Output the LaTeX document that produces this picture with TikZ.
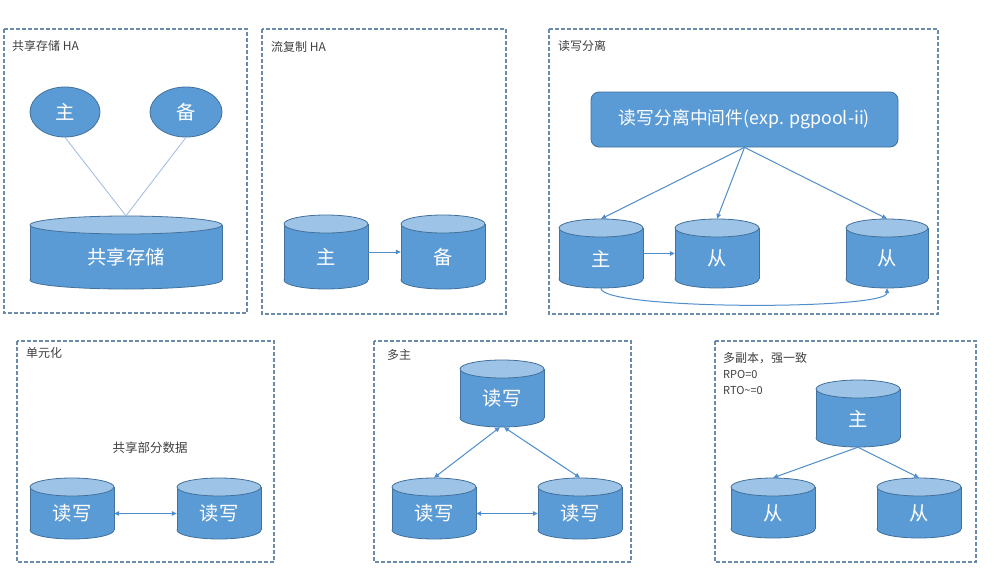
\documentclass[tikz,border=0pt]{standalone}
\usepackage{fontspec}
\setmainfont{Noto Sans CJK SC}
\usetikzlibrary{arrows.meta,shapes.geometric}
\definecolor{cylbody}{HTML}{5B9BD5}
\definecolor{cylline}{HTML}{41719C}
\definecolor{cyltop}{HTML}{9DC3E6}
\definecolor{panelc}{HTML}{6B8BAD}
\definecolor{arrc}{HTML}{4F8DCB}
\definecolor{linec}{HTML}{9DBBE0}
\definecolor{labc}{HTML}{404040}
\tikzset{
  panel/.style={draw=panelc, line width=1.1pt, dash pattern=on 4pt off 2pt},
  cylline/.style={draw=cylline, line width=0.8pt},
  cyltext/.style={text=white, font=\fontsize{19.3}{21}\selectfont, inner sep=0},
  plabel/.style={text=labc, font=\fontsize{12}{14}\selectfont, anchor=west, inner sep=0},
  arr/.style={draw=arrc, line width=1pt, -{Triangle[length=5pt,width=4.5pt]}},
  darr/.style={draw=arrc, line width=1pt, {Triangle[length=5pt,width=4.5pt]}-{Triangle[length=5pt,width=4.5pt]}},
  thinline/.style={draw=linec, line width=0.8pt},
  ellnode/.style={ellipse, draw=cylline, line width=0.8pt, fill=cylbody, text=white, font=\fontsize{19.3}{21}\selectfont, inner sep=0},
}
\newcommand\dbcyl[6]{%
  \pgfmathsetmacro\cyL{#2-#5}\pgfmathsetmacro\cyR{#2+#5}%
  \pgfmathsetmacro\cyM{(#3+#4)/2}\pgfmathsetmacro\cyH{#4-#3+18}%
  \draw[cylline, fill=cylbody] (#2,#4) ellipse [x radius=#5, y radius=9];
  \fill[cylbody] (\cyL,#3) rectangle (\cyR,#4);
  \draw[cylline] (\cyL,#3) -- (\cyL,#4) (\cyR,#3) -- (\cyR,#4);
  \draw[cylline, fill=cyltop] (#2,#3) ellipse [x radius=#5, y radius=9];
  \node[inner sep=0, minimum width=2*#5pt, minimum height=\cyH pt] (#1) at (#2,\cyM) {};
  \node[cyltext] (#1-t) at (#2,\cyM+5) {#6};
}
\begin{document}
\begin{tikzpicture}[x=1pt,y=-1pt]
\useasboundingbox[fill=white] (0,0) rectangle (997,571);
% panels
\draw[panel] (4,29) rectangle (247,313);
\draw[panel] (262,29) rectangle (506,314);
\draw[panel] (549,29) rectangle (938,314);
\draw[panel] (17,341) rectangle (274,562);
\draw[panel] (374,341) rectangle (631,562);
\draw[panel] (715,341) rectangle (976,562);
% labels
\node[plabel] (l1) at (12,46) {共享存储 HA};
\node[plabel] (l2) at (271,47) {流复制 HA};
\node[plabel] (l3) at (558,46) {读写分离};
\node[plabel] (l4) at (26,353) {单元化};
\node[plabel] (l5) at (387,355) {多主};
\node[plabel] (l6) at (723,358) {多副本，强一致};
\node[plabel, font=\fontsize{11}{13}\selectfont] (l6b) at (723,374) {RPO=0};
\node[plabel, font=\fontsize{11}{13}\selectfont] (l6c) at (723,390) {RTO\textasciitilde=0};
% panel 1
\node[ellnode, minimum width=70pt, minimum height=50pt] (e1) at (65,112) {主};
\node[ellnode, minimum width=72pt, minimum height=50pt] (e2) at (186,112) {备};
\dbcyl{ss}{126}{225}{280}{96}{共享存储}
\draw[thinline] (e1.south) -- (ss.north);
\draw[thinline] (e2.south) -- (ss.north);
% panel 2
\dbcyl{p2m}{326}{224}{280}{42}{主}
\dbcyl{p2s}{443}{224}{280}{42}{备}
\draw[arr] (p2m.east) -- (p2s.west);
% panel 3
\node[draw=cylline, line width=0.8pt, fill=cylbody, rounded corners=8pt, minimum width=307pt, minimum height=55pt, text=white, font=\fontsize{17.8}{20}\selectfont] (mw) at (744.5,119.5) {读写分离中间件(exp. pgpool-ii)};
\dbcyl{p3m}{601}{228}{279}{42}{主}
\dbcyl{p3a}{717}{228}{279}{42}{从}
\dbcyl{p3b}{887}{228}{279}{41}{从}
\draw[arr] (mw.south) -- (p3m.north);
\draw[arr] (mw.south) -- (p3a.north);
\draw[arr] (mw.south) -- (p3b.north);
\draw[arr] (p3m.east) -- (p3a.west);
\draw[arr] (p3m.south) .. controls +(0,22) and +(0,22) .. (p3b.south);
% panel 4
\node[text=labc, font=\fontsize{12.5}{14}\selectfont, inner sep=0] (shr) at (150,448) {共享部分数据};
\dbcyl{p4a}{72}{487}{530}{42}{读写}
\dbcyl{p4b}{219}{487}{530}{42}{读写}
\draw[darr] (p4a.east |- p4a-t) -- (p4b.west |- p4b-t);
% panel 5
\dbcyl{p5t}{502}{369}{418}{42}{读写}
\dbcyl{p5a}{434}{487}{530}{42}{读写}
\dbcyl{p5b}{580}{487}{530}{42}{读写}
\draw[darr] ([xshift=-2pt]p5t.south) -- (p5a.north);
\draw[darr] ([xshift=2pt]p5t.south) -- (p5b.north);
\draw[darr] (p5a.east |- p5a-t) -- (p5b.west |- p5b-t);
% panel 6
\dbcyl{p6t}{858}{389}{438}{42}{主}
\dbcyl{p6a}{773}{487}{529}{42}{从}
\dbcyl{p6b}{919}{487}{529}{42}{从}
\draw[arr] (p6t.south) -- (p6a.north);
\draw[arr] (p6t.south) -- (p6b.north);
\end{tikzpicture}
\end{document}
